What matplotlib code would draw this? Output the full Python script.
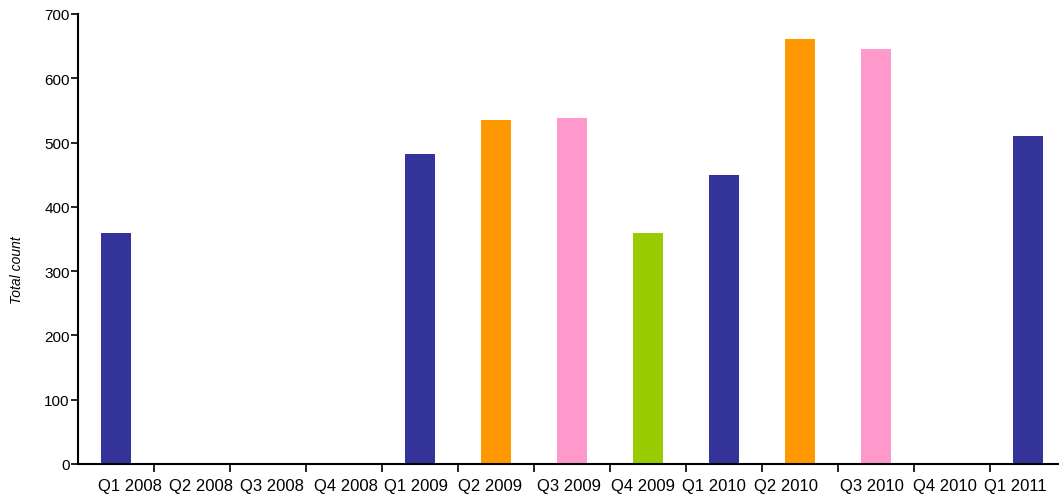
import matplotlib.pyplot as plt
from matplotlib.transforms import ScaledTranslation

quarters = ["Q1 2008", "Q2 2008", "Q3 2008", "Q4 2008", "Q1 2009", "Q2 2009",
            "Q3 2009", "Q4 2009", "Q1 2010", "Q2 2010", "Q3 2010", "Q4 2010", "Q1 2011"]
counts = [360, 0, 0, 0, 483, 535, 539, 360, 449, 661, 645, 0, 511]
quarter_colors = {"Q1": "#333399", "Q2": "#FF9900", "Q3": "#FF99CC", "Q4": "#99CC00"}

# the original packs the labels a bit off centre (pixels)
label_shift = [14, 9, 4, 2, -4, -6, -3, -5, -10, -14, -4, -7, -13]

plt.rcParams['font.family'] = ['Liberation Sans', 'DejaVu Sans']

W, H = 1059, 502
fig = plt.figure(figsize=(W / 100, H / 100), dpi=100)
left, bottom, top = 78, 37, 15
ax = fig.add_axes([left / W, bottom / H, (W - left) / W, (H - bottom - top) / H])

xs = list(range(len(quarters)))
cols = [quarter_colors[q.split()[0]] for q in quarters]
ax.bar(xs, counts, width=0.4, color=cols)

ax.set_xlim(-0.5, -0.5 + (W - left) / 76.0)
ax.set_ylim(0, 700)
ax.set_yticks(range(0, 701, 100))
ax.tick_params(axis='y', labelsize=11, length=5, width=1.2, pad=1, direction='out')

# ticks sit between categories, labels in the middle
ax.set_xticks([x + 0.5 for x in xs[:-1]])
ax.set_xticklabels([])
ax.set_xticks(xs, minor=True)
ax.set_xticklabels(quarters, minor=True, fontsize=12)
ax.tick_params(axis='x', which='major', length=6, width=1.2)
ax.tick_params(axis='x', which='minor', length=0, pad=10)
for lab, dx in zip(ax.get_xticklabels(minor=True), label_shift):
    lab.set_transform(lab.get_transform() + ScaledTranslation(dx / 100, 0, fig.dpi_scale_trans))

for s in ['top', 'right']:
    ax.spines[s].set_visible(False)
for s in ['left', 'bottom']:
    ax.spines[s].set_linewidth(1.5)

fig.text(17 / W, 1 - 270 / H, "Total count", rotation=90, style='italic',
         fontsize=10, ha='center', va='center')

fig.savefig("out.png", dpi=100)
